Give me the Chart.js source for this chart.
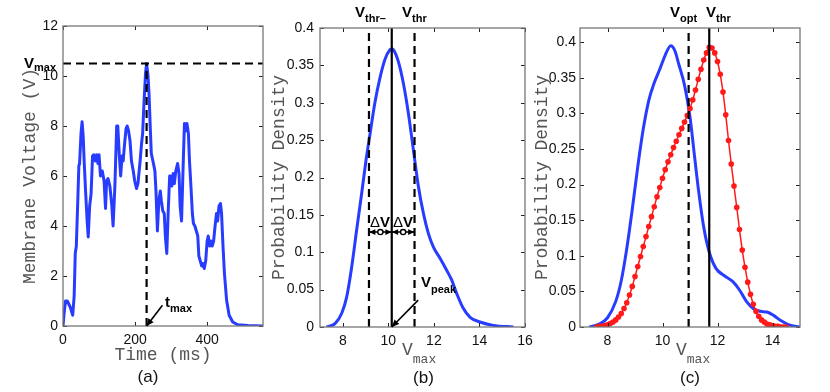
<!DOCTYPE html>
<html>
<head>
<meta charset="utf-8">
<title>Vmax figure</title>
<script src="https://cdn.jsdelivr.net/npm/chart.js@4.4.1/dist/chart.umd.min.js"></script>
<style>
  html, body { margin: 0; padding: 0; background: #fff; }
  #wrap { position: relative; width: 830px; height: 392px; overflow: hidden; }
  #wrap canvas { position: absolute; top: 0; }
</style>
</head>
<body>
<div id="wrap">
  <canvas id="panelA" width="275" height="392" style="left:0px"></canvas>
  <canvas id="panelB" width="275" height="392" style="left:265px"></canvas>
  <canvas id="panelC" width="300" height="392" style="left:530px"></canvas>
</div>
<script>
// ---- (a) membrane voltage trace ----
const traceTime = [
  0, 3, 7, 12, 20, 27, 31, 34, 37, 41,
  44, 46, 50, 53, 56, 59, 63, 67, 70, 74,
  78, 82, 85, 90, 93, 97, 100, 104, 109, 114,
  118, 121, 125, 130, 135, 139, 144, 149, 152, 156,
  160, 164, 167, 171, 175, 178, 182, 186, 190, 195,
  199, 204, 208, 214, 218, 221, 225, 229, 232, 236,
  239, 242, 245, 251, 255, 258, 262, 266, 270, 273,
  277, 281, 284, 288, 292, 296, 299, 302, 306, 309,
  313, 318, 322, 325, 329, 333, 337, 340, 344, 348,
  351, 355, 359, 362, 366, 370, 374, 377, 381, 385,
  388, 392, 396, 400, 403, 407, 411, 414, 418, 422,
  426, 429, 433, 437, 440, 444, 448, 454, 461, 471,
  485, 513, 555
];
const traceVolt = [
  0, 0.5, 1.0, 1.0, 0.76, 0.43, 1.2, 2.9, 3.2, 5.0,
  6.4, 6.5, 7.7, 8.17, 7.6, 6.5, 5.3, 4.2, 3.56, 4.8,
  5.3, 6.8, 6.85, 6.6, 6.85, 6.5, 6.85, 6.0, 6.2, 5.8,
  4.7, 5.8, 5.9, 5.6, 4.9, 4.0, 5.6, 8.0, 8.0, 6.9,
  6.0, 6.8, 6.6, 7.3, 7.9, 8.0, 7.8, 7.4, 6.6, 6.2,
  5.8, 5.5, 5.7, 6.6, 7.3, 7.7, 9.0, 10.1, 10.5, 10.0,
  9.2, 8.0, 6.9, 6.5, 6.2, 5.4, 3.8, 5.0, 5.4, 5.0,
  4.6, 4.5, 3.6, 2.9, 4.6, 6.0, 6.0, 5.6, 6.1, 5.7,
  6.2, 6.5, 6.1, 4.8, 4.2, 6.2, 8.1, 7.8, 8.1, 7.7,
  6.6, 5.6, 4.5, 4.1, 4.0, 3.8, 3.6, 2.8, 2.6, 2.4,
  2.5, 2.3, 2.6, 3.4, 3.6, 3.2, 3.4, 3.2, 3.4, 4.0,
  4.5, 4.2, 4.8, 4.9, 4.5, 3.2, 2.1, 1.03, 0.43, 0.16,
  0.05, 0.02, 0
];
const timeTicks = [0, 200, 400];
const voltTicks = [0, 2, 4, 6, 8, 10, 12];
const vMax = 10.5;
const tMax = 232;

// ---- (b) density of Vmax ----
const bX = [7.29, 7.66, 7.95, 8.17, 8.39, 8.61, 8.83, 9.02, 9.2, 9.41,
  9.63, 9.85, 10.07, 10.15, 10.22, 10.44, 10.66, 10.88, 11.1, 11.32,
  11.54, 11.76, 11.98, 12.27, 12.56, 12.78, 13.0, 13.29, 13.59, 14.02,
  14.6, 15.49];
const bDensity = [0, 0.0045, 0.018, 0.04, 0.08, 0.13, 0.179, 0.223, 0.259, 0.30,
  0.333, 0.358, 0.371, 0.372, 0.371, 0.355, 0.326, 0.286, 0.237, 0.188,
  0.152, 0.125, 0.107, 0.092, 0.076, 0.063, 0.045, 0.025, 0.013, 0.0067,
  0.0022, 0];
const vTicksB = [8, 10, 12, 14, 16];
const densTicks = [0, 0.05, 0.1, 0.15, 0.2, 0.25, 0.3, 0.35, 0.4];
const vThrMinus = 9.15, vPeak = 10.15, vThrB = 11.15;

// ---- (c) two densities ----
const cBlueX = [7.34, 7.7, 8.0, 8.3, 8.5, 8.7, 8.9, 9.1, 9.3, 9.5,
  9.7, 9.9, 10.1, 10.3, 10.45, 10.6, 10.8, 11.0, 11.15, 11.3,
  11.5, 11.7, 11.95, 12.25, 12.55, 12.8, 13.05, 13.3, 13.55, 13.8,
  14.05, 14.3, 14.6, 15.0];
const cBlueY = [0, 0.004, 0.013, 0.036, 0.065, 0.11, 0.165, 0.225, 0.278, 0.318,
  0.343, 0.362, 0.382, 0.395, 0.388, 0.368, 0.34, 0.295, 0.245, 0.195,
  0.14, 0.105, 0.082, 0.072, 0.064, 0.052, 0.036, 0.026, 0.022, 0.021,
  0.016, 0.009, 0.003, 0];
const cRedX = [7.6, 7.7, 7.8, 7.9, 8.0, 8.1, 8.2, 8.3, 8.4, 8.5,
  8.6, 8.7, 8.8, 8.9, 9.0, 9.1, 9.2, 9.3, 9.4, 9.5,
  9.6, 9.7, 9.8, 9.9, 10.0, 10.1, 10.2, 10.3, 10.4, 10.5,
  10.6, 10.7, 10.8, 10.9, 11.0, 11.1, 11.2, 11.3, 11.4, 11.5,
  11.6, 11.7, 11.8, 11.9, 12.0, 12.1, 12.2, 12.3, 12.4, 12.5,
  12.6, 12.7, 12.8, 12.9, 13.0, 13.1, 13.2, 13.3, 13.4, 13.5,
  13.6, 13.7, 13.8, 13.9, 14.0, 14.1, 14.2, 14.3, 14.4, 14.5];
const cRedY = [0.000, 0.001, 0.001, 0.002, 0.003, 0.005, 0.007, 0.010, 0.014, 0.019,
  0.026, 0.034, 0.045, 0.057, 0.071, 0.085, 0.099, 0.113, 0.127, 0.141,
  0.155, 0.169, 0.183, 0.196, 0.209, 0.221, 0.232, 0.242, 0.252, 0.261,
  0.270, 0.279, 0.288, 0.297, 0.307, 0.319, 0.333, 0.348, 0.362, 0.375,
  0.385, 0.393, 0.392, 0.385, 0.373, 0.355, 0.330, 0.298, 0.262, 0.229,
  0.198, 0.168, 0.137, 0.108, 0.084, 0.063, 0.046, 0.032, 0.022, 0.015,
  0.010, 0.007, 0.004, 0.003, 0.002, 0.001, 0.001, 0.000, 0.000, 0.000];
const vTicksC = [8, 10, 12, 14];
const vOpt = 10.95, vThrC = 11.7;

const BLUE = 'rgb(40,60,255)';
const RED = 'rgb(255,25,25)';
const SANS = '"Liberation Sans", Arial, sans-serif';
const MONO = '"Liberation Mono", "Courier New", monospace';
const TITLE_GREY = '#555';

const pts = (xs, ys) => xs.map((x, i) => ({x: x, y: ys[i]}));
const refLine = (p0, p1, dash) => ({
  data: [p0, p1], borderColor: '#000', borderWidth: 2.2, borderDash: dash,
  pointRadius: 0, order: 0
});

// text with a subscript
function subLabel(ctx, x, y, main, small, off, size, family, weight) {
  size = size || 15; family = family || SANS; weight = weight || 'bold';
  ctx.textAlign = 'left'; ctx.textBaseline = 'alphabetic';
  ctx.font = weight + ' ' + size + 'px ' + family;
  ctx.fillText(main, x, y);
  const w = ctx.measureText(main).width;
  ctx.font = weight + ' ' + Math.round(size * 0.73) + 'px ' + family;
  ctx.fillText(small, x + w, y + off);
}

function caption(ctx, txt, x, y) {
  ctx.font = '17px ' + SANS;
  ctx.textAlign = 'center'; ctx.textBaseline = 'middle';
  ctx.fillStyle = '#111';
  ctx.fillText(txt, x, y);
}

function head(ctx, x, y, ang, len) {
  ctx.beginPath();
  ctx.moveTo(x, y);
  ctx.lineTo(x - len * Math.cos(ang - 0.42), y - len * Math.sin(ang - 0.42));
  ctx.lineTo(x - len * Math.cos(ang + 0.42), y - len * Math.sin(ang + 0.42));
  ctx.closePath();
  ctx.fill();
}

function arrow(ctx, x0, y0, x1, y1, len) {
  const ang = Math.atan2(y1 - y0, x1 - x0);
  ctx.beginPath();
  ctx.moveTo(x0, y0);
  ctx.lineTo(x1, y1);
  ctx.stroke();
  head(ctx, x1, y1, ang, len);
}

// MATLAB-like box with inward ticks on all four sides
const boxTicks = {
  id: 'boxTicks',
  afterDatasetsDraw(chart) {
    const {ctx, chartArea: a, scales: {x, y}} = chart;
    ctx.save();
    ctx.strokeStyle = '#222';
    ctx.lineWidth = 1;
    ctx.beginPath();
    x.ticks.forEach(t => {
      const px = Math.round(x.getPixelForValue(t.value)) + 0.5;
      ctx.moveTo(px, a.bottom); ctx.lineTo(px, a.bottom - 4);
      ctx.moveTo(px, a.top); ctx.lineTo(px, a.top + 4);
    });
    y.ticks.forEach(t => {
      const py = Math.round(y.getPixelForValue(t.value)) + 0.5;
      ctx.moveTo(a.left, py); ctx.lineTo(a.left + 4, py);
      ctx.moveTo(a.right, py); ctx.lineTo(a.right - 4, py);
    });
    ctx.stroke();
    ctx.strokeStyle = '#777';
    ctx.lineWidth = 1.3;
    ctx.strokeRect(a.left, a.top, a.right - a.left, a.bottom - a.top);
    ctx.restore();
  }
};

function scalesFor(o) {
  return {
    x: {
      type: 'linear', min: o.xmin, max: o.xmax,
      afterBuildTicks: s => { s.ticks = o.xticks.map(v => ({value: v})); },
      afterFit: s => { s.height = o.xh; },
      grid: {display: false, drawTicks: false},
      border: {display: false},
      ticks: {font: {family: SANS, size: 14}, color: '#111', padding: o.xpad,
              maxRotation: 0, autoSkip: false, callback: v => String(v)},
      title: o.xtitle
        ? {display: true, text: o.xtitle, color: TITLE_GREY, font: {family: MONO, size: 18},
           padding: {top: 0, bottom: o.xtp}}
        : {display: false}
    },
    y: {
      type: 'linear', min: o.ymin, max: o.ymax,
      afterBuildTicks: s => { s.ticks = o.yticks.map(v => ({value: v})); },
      afterFit: s => { s.width = o.yw; },
      grid: {display: false, drawTicks: false},
      border: {display: false},
      ticks: {font: {family: SANS, size: 14}, color: '#111', padding: o.ypad,
              autoSkip: false, callback: v => String(v)},
      title: {display: true, text: o.ytitle, color: TITLE_GREY, font: {family: MONO, size: 18},
              padding: {top: o.ytp, bottom: 0}}
    }
  };
}

function baseOptions(o) {
  return {
    responsive: false, animation: false, devicePixelRatio: 1,
    layout: {padding: {left: 0, top: o.top, right: o.right, bottom: 0}},
    plugins: {legend: {display: false}, tooltip: {enabled: false}},
    scales: scalesFor(o)
  };
}

// ---- panel (a) ----
const OXA = 0;
new Chart(document.getElementById('panelA'), {
  type: 'line',
  data: {
    datasets: [
      refLine({x: 0, y: vMax}, {x: 555, y: vMax}, [8, 5]),
      refLine({x: tMax, y: 0}, {x: tMax, y: vMax}, [8, 5]),
      {data: pts(traceTime, traceVolt), borderColor: BLUE, borderWidth: 3,
       borderJoinStyle: 'round', borderCapStyle: 'round',
       pointRadius: 0, tension: 0, order: 2}
    ]
  },
  options: baseOptions({
    xmin: 0, xmax: 555, xticks: timeTicks, xh: 66, xpad: 6, xtitle: 'Time (ms)', xtp: 26,
    ymin: 0, ymax: 12, yticks: voltTicks, yw: 63, ypad: 5, ytitle: 'Membrane Voltage (V)', ytp: 19,
    top: 26, right: 12
  }),
  plugins: [boxTicks, {
    id: 'notesA',
    afterDraw(chart) {
      const {ctx, scales: {x, y}} = chart;
      ctx.save();
      ctx.fillStyle = '#000'; ctx.strokeStyle = '#000'; ctx.lineWidth = 1.6;
      arrow(ctx, x.getPixelForValue(276), y.getPixelForValue(0.83),
            x.getPixelForValue(tMax), y.getPixelForValue(0), 8);
      subLabel(ctx, 24 - OXA, 68, 'V', 'max', 3);
      subLabel(ctx, 165 - OXA, 307, 't', 'max', 5);
      caption(ctx, '(a)', 148 - OXA, 377);
      ctx.restore();
    }
  }]
});

// ---- panel (b) ----
const OXB = 265;
new Chart(document.getElementById('panelB'), {
  type: 'line',
  data: {
    datasets: [
      refLine({x: vPeak, y: 0}, {x: vPeak, y: 0.4}, []),
      refLine({x: vThrMinus, y: 0}, {x: vThrMinus, y: 0.4}, [8, 5]),
      refLine({x: vThrB, y: 0}, {x: vThrB, y: 0.4}, [8, 5]),
      {data: pts(bX, bDensity), borderColor: BLUE, borderWidth: 3, pointRadius: 0,
       cubicInterpolationMode: 'monotone', order: 2}
    ]
  },
  options: baseOptions({
    xmin: 7, xmax: 16, xticks: vTicksB, xh: 65, xpad: 6,
    ymin: 0, ymax: 0.4, yticks: densTicks, yw: 55, ypad: 6, ytitle: 'Probability Density', ytp: 3,
    top: 28, right: 15
  }),
  plugins: [boxTicks, {
    id: 'notesB',
    afterDraw(chart) {
      const {ctx, scales: {x, y}} = chart;
      ctx.save();
      ctx.fillStyle = '#000'; ctx.strokeStyle = '#000'; ctx.lineWidth = 1.6;
      // delta V double arrows
      const ay = y.getPixelForValue(0.127);
      const xl = x.getPixelForValue(vThrMinus), xm = x.getPixelForValue(vPeak), xr = x.getPixelForValue(vThrB);
      ctx.beginPath(); ctx.moveTo(xl, ay); ctx.lineTo(xr, ay); ctx.stroke();
      head(ctx, xl, ay, Math.PI, 7);
      head(ctx, xm, ay, 0, 7);
      head(ctx, xm, ay, Math.PI, 7);
      head(ctx, xr, ay, 0, 7);
      [(vThrMinus + vPeak) / 2, (vPeak + vThrB) / 2].forEach(v => {
        ctx.beginPath();
        ctx.arc(x.getPixelForValue(v), ay, 2.6, 0, Math.PI * 2);
        ctx.fillStyle = '#fff'; ctx.fill();
        ctx.lineWidth = 1.4; ctx.stroke();
      });
      ctx.fillStyle = '#000';
      [370, 393].forEach(px => {
        ctx.textAlign = 'left'; ctx.textBaseline = 'alphabetic';
        ctx.font = '15px ' + SANS;
        ctx.fillText('\u0394', px - OXB, 227);
        const w = ctx.measureText('\u0394').width;
        ctx.font = 'bold 15px ' + SANS;
        ctx.fillText('V', px - OXB + w, 227);
      });
      // V_peak arrow
      ctx.lineWidth = 1.6;
      arrow(ctx, x.getPixelForValue(11.31), y.getPixelForValue(0.036),
            x.getPixelForValue(vPeak), y.getPixelForValue(0), 8);
      subLabel(ctx, 421 - OXB, 287, 'V', 'peak', 6);
      subLabel(ctx, 355 - OXB, 17, 'V', 'thr\u2013', 5);
      subLabel(ctx, 402 - OXB, 17, 'V', 'thr', 5);
      ctx.fillStyle = TITLE_GREY;
      subLabel(ctx, 402 - OXB, 355, 'V', 'max', 8, 18, MONO, 'normal');
      ctx.fillStyle = '#000';
      caption(ctx, '(b)', 423.5 - OXB, 378);
      ctx.restore();
    }
  }]
});

// ---- panel (c) ----
const OXC = 530;
new Chart(document.getElementById('panelC'), {
  type: 'line',
  data: {
    datasets: [
      refLine({x: vThrC, y: 0}, {x: vThrC, y: 0.42}, []),
      refLine({x: vOpt, y: 0}, {x: vOpt, y: 0.42}, [8, 5]),
      {data: pts(cRedX, cRedY), borderColor: RED, borderWidth: 1.5,
       pointRadius: 2.8, pointBackgroundColor: RED, pointBorderWidth: 0,
       cubicInterpolationMode: 'monotone', order: 1},
      {data: pts(cBlueX, cBlueY), borderColor: BLUE, borderWidth: 3, pointRadius: 0,
       cubicInterpolationMode: 'monotone', order: 2}
    ]
  },
  options: baseOptions({
    xmin: 7, xmax: 15, xticks: vTicksC, xh: 65, xpad: 6,
    ymin: 0, ymax: 0.42, yticks: densTicks, yw: 50, ypad: 4, ytitle: 'Probability Density', ytp: 1,
    top: 28, right: 30
  }),
  plugins: [boxTicks, {
    id: 'notesC',
    afterDraw(chart) {
      const {ctx} = chart;
      ctx.save();
      ctx.fillStyle = '#000';
      subLabel(ctx, 670 - OXC, 17, 'V', 'opt', 5);
      subLabel(ctx, 706 - OXC, 17, 'V', 'thr', 5);
      ctx.fillStyle = TITLE_GREY;
      subLabel(ctx, 676 - OXC, 355, 'V', 'max', 8, 18, MONO, 'normal');
      ctx.fillStyle = '#000';
      caption(ctx, '(c)', 690 - OXC, 378);
      ctx.restore();
    }
  }]
});
</script>
</body>
</html>
